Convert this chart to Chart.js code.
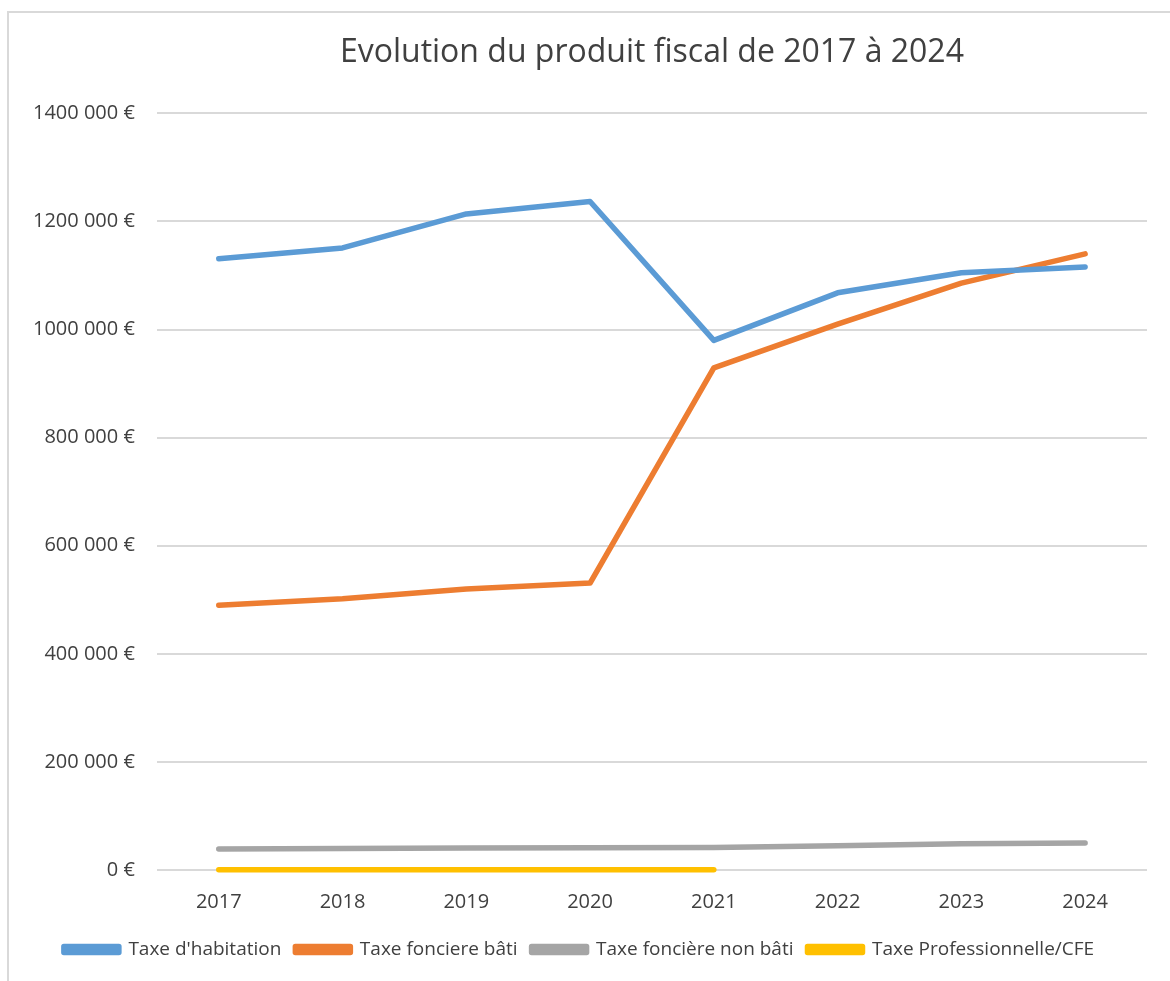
<!DOCTYPE html>
<html lang="fr">
<head>
    <meta charset="UTF-8">
    <title>Evolution du produit fiscal</title>
    <script src="https://cdn.jsdelivr.net/npm/chart.js@4.4.1/dist/chart.umd.min.js"></script>
    <style>
        html, body {
            margin: 0;
            padding: 0;
            background: #ffffff;
            overflow: hidden;
        }

        #cadre {
            position: absolute;
            left: 7px;
            top: 11px;
            width: 1200px;
            height: 1000px;
            border: 2px solid #d9d9d9;
            box-sizing: border-box;
        }

        #conteneur {
            position: absolute;
            left: 0;
            top: 1px;
            width: 1161px;
            height: 967px;
        }
    </style>
</head>
<body>
    <div id="cadre">
        <div id="conteneur">
            <canvas id="graphique"></canvas>
        </div>
    </div>

    <script>
        const annees = ["2017", "2018", "2019", "2020", "2021", "2022", "2023", "2024"];

        const taxeHabitation = [1131000, 1151000, 1214000, 1237000, 980000, 1068000, 1105000, 1116000];
        const taxeFonciereBati = [490000, 502000, 520000, 531000, 929000, 1010000, 1086000, 1140000];
        const taxeFonciereNonBati = [39000, 40000, 40500, 41000, 41500, 45000, 48500, 50000];
        const taxeProfessionnelle = [500, 500, 500, 500, 500, null, null, null];

        const police = "'Open Sans', sans-serif";

        function formatEuro(valeur) {
            if (valeur === 0) return "0 €";
            return Math.round(valeur / 1000) + " 000 €";
        }

        function serie(label, data, couleur) {
            return {
                label: label,
                data: data,
                borderColor: couleur,
                backgroundColor: couleur,
                borderWidth: 5.5,
                pointRadius: 0,
                pointHoverRadius: 0,
                tension: 0,
                borderCapStyle: "round",
                borderJoinStyle: "round",
                spanGaps: false,
                clip: 8
            };
        }

        const ctx = document.getElementById("graphique").getContext("2d");

        new Chart(ctx, {
            type: "line",
            data: {
                labels: annees,
                datasets: [
                    serie("Taxe d'habitation", taxeHabitation, "#5B9BD5"),
                    serie("Taxe fonciere bâti", taxeFonciereBati, "#ED7D31"),
                    serie("Taxe foncière non bâti", taxeFonciereNonBati, "#A5A5A5"),
                    serie("Taxe Professionnelle/CFE", taxeProfessionnelle, "#FFC000")
                ]
            },
            options: {
                responsive: true,
                maintainAspectRatio: false,
                animation: false,
                layout: {
                    padding: { left: 2, right: 23, top: 0, bottom: 12 }
                },
                plugins: {
                    title: {
                        display: true,
                        fullSize: false,
                        text: "Evolution du produit fiscal de 2017 à 2024",
                        color: "#404040",
                        font: { family: police, size: 32, weight: "normal" },
                        padding: { top: 20, bottom: 41 }
                    },
                    legend: {
                        position: "bottom",
                        labels: {
                            color: "#404040",
                            font: { family: police, size: 19 },
                            boxWidth: 55,
                            boxHeight: 6,
                            padding: 14
                        }
                    },
                    tooltip: { enabled: false }
                },
                scales: {
                    x: {
                        offset: true,
                        grid: { display: false },
                        border: { display: false },
                        ticks: {
                            color: "#404040",
                            font: { family: police, size: 20 },
                            padding: 12
                        }
                    },
                    y: {
                        min: 0,
                        max: 1400000,
                        border: { display: false },
                        grid: { color: "#d9d9d9", lineWidth: 2, drawTicks: false },
                        ticks: {
                            stepSize: 200000,
                            color: "#404040",
                            font: { family: police, size: 20 },
                            padding: 22,
                            callback: formatEuro
                        }
                    }
                }
            }
        });
    </script>
</body>
</html>
